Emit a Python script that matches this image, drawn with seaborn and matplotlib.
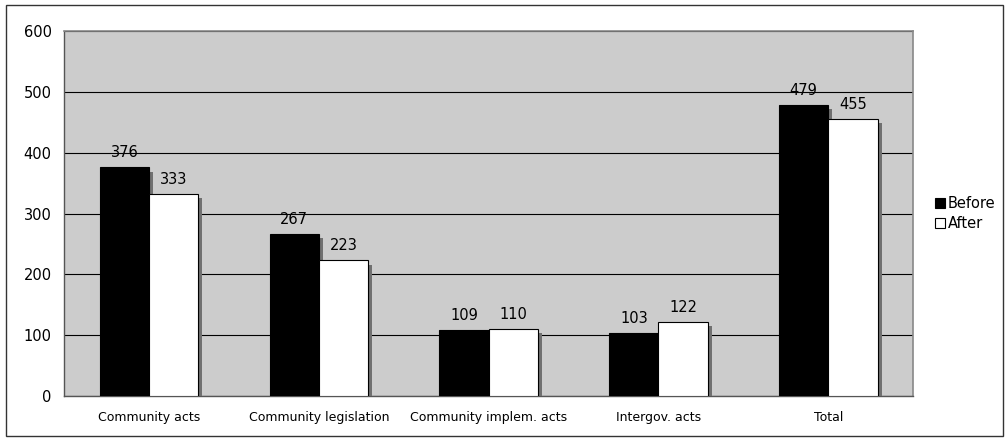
import pandas as pd
import seaborn as sns
import matplotlib.pyplot as plt
import matplotlib.patheffects as pe
from matplotlib.patches import Rectangle

# Chart values
categories = ["Community acts", "Community legislation", "Community implem. acts",
              "Intergov. acts", "Total"]
before = [376, 267, 109, 103, 479]
after = [333, 223, 110, 122, 455]

df = pd.DataFrame({
    "Category": categories * 2,
    "Count": before + after,
    "Period": ["Before"] * len(before) + ["After"] * len(after),
})

sns.set_style("white")
plt.rcParams["font.family"] = ["DejaVu Sans"]
plt.rcParams["text.color"] = "black"

fig = plt.figure(figsize=(10.05, 4.38), dpi=100)
ax = fig.add_axes([0.0637, 0.0959, 0.845, 0.833])
ax.set_facecolor("#cccccc")

sns.barplot(data=df, x="Category", y="Count", hue="Period",
            palette={"Before": "black", "After": "white"},
            width=0.58, gap=0, edgecolor="black", linewidth=0.8,
            ax=ax, zorder=3)

ax.set_ylim(0, 600)
ax.set_xlim(-0.5, len(categories) - 0.5)
ax.set_yticks(range(0, 601, 100))
ax.yaxis.grid(True, color="black", linewidth=0.8, zorder=0)
ax.set_axisbelow(True)
ax.set_xlabel("")
ax.set_ylabel("")

# tick marks between categories, labels at centers
ax.set_xticks([i - 0.5 for i in range(len(categories) + 1)], minor=True)
ax.tick_params(axis="x", which="major", length=0, labelsize=9, pad=11, labelcolor="black")
ax.tick_params(axis="x", which="minor", length=5, width=1, color="#555555")
ax.tick_params(axis="y", length=5, width=1, color="#555555", labelsize=10.5, pad=4,
               labelcolor="black")

for side in ["top", "right"]:
    ax.spines[side].set_color("#888888")
    ax.spines[side].set_linewidth(1.2)
for side in ["left", "bottom"]:
    ax.spines[side].set_color("#555555")
    ax.spines[side].set_linewidth(1)

# legend
handles, labels = ax.get_legend_handles_labels()
ax.legend(handles, labels, loc="center left", bbox_to_anchor=(1.01, 0.5),
          frameon=False, fontsize=10.5, handlelength=0.7, handleheight=0.7,
          handletextpad=0.2, labelspacing=0.35, labelcolor="black")

# bar labels and shadows
for cont in ax.containers:
    ax.bar_label(cont, padding=5, fontsize=10.5, color="black")
    for bar in cont:
        bar.set_path_effects([pe.SimplePatchShadow(offset=(3, -3),
                                                   shadow_rgbFace="#707070", alpha=1),
                              pe.Normal()])

# outer chart border
fig.patches.append(Rectangle((0.006, 0.004), 0.992, 0.985, transform=fig.transFigure,
                             fill=False, edgecolor="#333333", linewidth=1))

fig.savefig("out.png", dpi=100)
